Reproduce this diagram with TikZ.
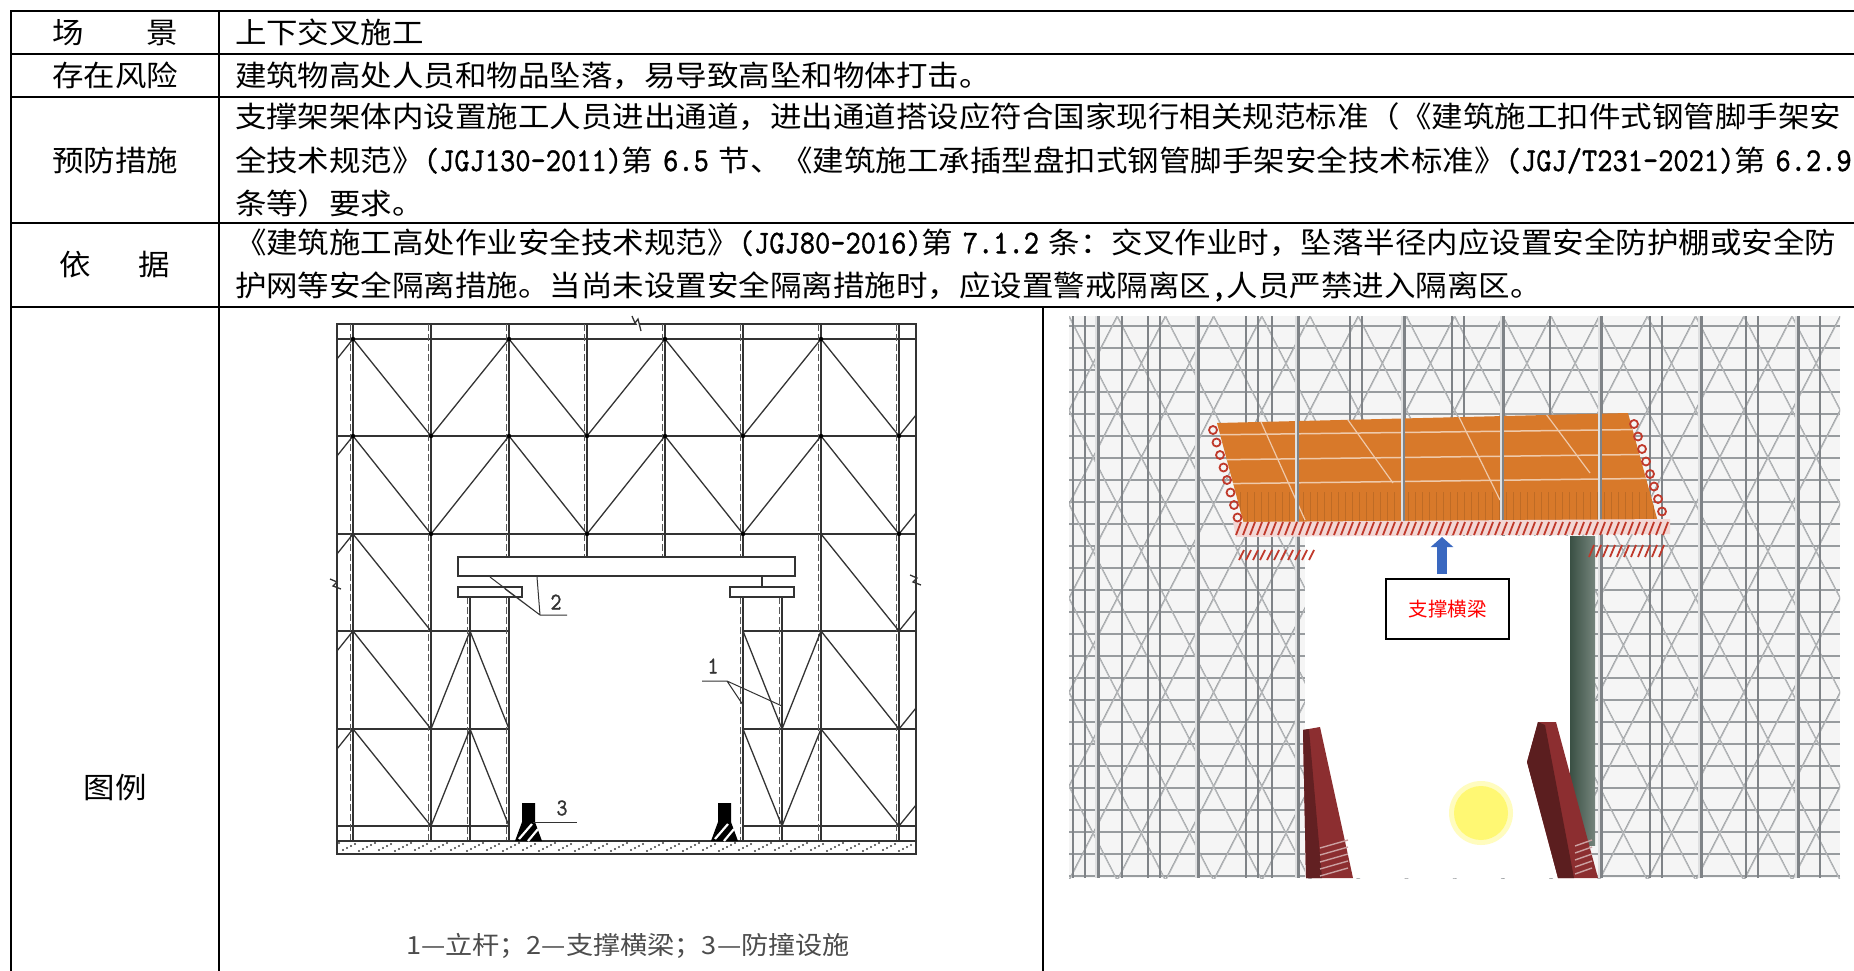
\documentclass[tikz,border=0pt]{standalone}
\usepackage{fontspec}
\setmainfont[FakeStretch=1.086]{Noto Sans CJK SC}
\newfontfamily\lat[Scale=1.15,FakeStretch=0.87,FakeBold=1]{lmmono10-regular.otf}
\newfontfamily\tagfont{Noto Sans CJK SC}
\newcommand\la[1]{{\lat #1}}
\usetikzlibrary{positioning,arrows.meta}
\definecolor{tube}{HTML}{7F8387}
\definecolor{deck}{HTML}{D8792A}
\definecolor{rail}{HTML}{C0392B}
\definecolor{guard}{HTML}{8C2E30}
\definecolor{post}{HTML}{3A5044}
\definecolor{shaftblue}{HTML}{3A68C0}
\begin{document}
\begin{tikzpicture}[x=1bp,y=-1bp,
    every node/.style={inner sep=0pt,rectangle,text centered,font=\fontsize{29bp}{43.3bp}\selectfont},
    field/.style={draw,line width=1.6bp,text width=208bp,align=center},
    wide/.style={field,text width=1620bp,inner xsep=16bp,align=left},
    bar/.style={line width=1.3bp,black!80},
    ghost/.style={line width=0.9bp,black!65,dash pattern=on 7bp off 3bp},
    tag/.style={font=\fontsize{21bp}{21bp}\lat,black!80},
    hatch/.style={rail,line width=1.8bp}]
\useasboundingbox (0,0) rectangle (1854,970);
\clip (0,0) rectangle (1854,970);
\matrix (tbl) [ampersand replacement=\&, column sep=-1.6bp, row sep=-1.6bp, anchor=north west] at (10,10)
{
\node [field, minimum height=43bp] (scene) {场　　景}; \&
\node [wide, minimum height=43bp] (scenetxt) {上下交叉施工}; \\
\node [field, minimum height=43bp] (risk) {存在风险}; \&
\node [wide, minimum height=43bp] (risktxt) {建筑物高处人员和物品坠落，易导致高坠和物体打击。}; \\
\node [field, minimum height=126bp] (measure) {预防措施}; \&
\node [wide, minimum height=126bp] (measuretxt) {支撑架架体内设置施工人员进出通道，进出通道搭设应符合国家现行相关规范标准（《建筑施工扣件式钢管脚手架安\\
全技术规范》\la{(JGJ130-2011)}第\la{\ 6.5\ }节、《建筑施工承插型盘扣式钢管脚手架安全技术标准》\la{(JGJ/T231-2021)}第\la{\ 6.2.9}\\
条等）要求。}; \\
\node [field, minimum height=84bp] (basis) {依\hspace{48bp}据}; \&
\node [wide, minimum height=84bp] (basistxt) {《建筑施工高处作业安全技术规范》\la{(JGJ80-2016)}第\la{\ 7.1.2\ }条：交叉作业时，坠落半径内应设置安全防护棚或安全防\\
护网等安全隔离措施。当尚未设置安全隔离措施时，应设置警戒隔离区\la{,}人员严禁进入隔离区。}; \\
\node [field, minimum height=960bp] (legend) {图例}; \&
\node [wide, minimum height=960bp] (pics) {}; \\
};
\coordinate (split) at (1043,306);
\draw[line width=1.6bp] (split) -- ++(0,680);

\draw[bar] (337,324) rectangle (916,854);
\foreach \y in {339,436,534} \draw[bar] (337,\y) -- (916,\y);
\foreach \y in {631,729,826} \draw[bar] (337,\y) -- (509,\y) (743,\y) -- (916,\y);
\foreach \x in {353,431,821,899} {\draw[bar] (\x,324) -- (\x,841); \draw[ghost] (\x-3,324) -- (\x-3,841);}
\foreach \x in {509,587,665,743} {\draw[bar] (\x,324) -- (\x,557); \draw[ghost] (\x-3,324) -- (\x-3,557);}
\foreach \x in {470,509,743,782} {\draw[bar] (\x,597) -- (\x,841); \draw[ghost] (\x-3,597) -- (\x-3,841);}
\foreach \t/\b in {339/436,436/534} \draw[bar] (353,\t) -- (431,\b) -- (509,\t) -- (587,\b) -- (665,\t) -- (743,\b) -- (821,\t) -- (899,\b);
\draw[bar] (353,534) -- (431,631) (821,534) -- (899,631);
\foreach \t/\b in {631/729,729/826} \draw[bar] (353,\t) -- (431,\b) -- (470,\t) -- (509,\b) (743,\t) -- (782,\b) -- (821,\t) -- (899,\b);
\foreach \t in {339,436,534,631,729} \draw[bar] (353,\t) -- (337,\t+20);
\foreach \b in {436,534,631,729,826} \draw[bar] (899,\b) -- (916,\b-21);
\foreach \y in {339,436} \foreach \x in {353,509,665,821} \fill (\x,\y) circle (2.2);
\foreach \y in {436,534} \foreach \x in {431,587,743,899} \fill (\x,\y) circle (2.2);
\draw[bar,fill=white] (458,557) rectangle (795,576);
\draw[bar,fill=white] (458,587) rectangle (522,597);
\draw[bar,fill=white] (730,587) rectangle (794,597);
\draw[bar] (762,576) -- (762,587);
\draw[bar,fill=white] (337,841) rectangle (916,854);
\foreach \i in {0,...,143} \fill[black!75] ({339+4*\i},{843+mod(7*\i,9)}) circle (1.1);
\foreach \x in {522,718} {
  \fill[black] (\x,803) rectangle (\x+13,822) (\x-7,841) -- (\x,822) -- (\x+13,822) -- (\x+20,841) -- cycle;
  \draw[white,line width=2.2bp] (\x-3,839) -- (\x+10,824) (\x+6,841) -- (\x+16,829);
}
\draw[bar,fill=white] (632,316) -- (635,323) -- (638,319) -- (641,331);
\draw[bar] (330,579) -- (337,582) -- (333,586) -- (341,589);
\draw[bar] (910,575) -- (917,578) -- (913,582) -- (921,585);

\node[tag] (n2) at (556,602) {2};
\node[tag] (n1) at (713,666) {1};
\node[tag] (n3) at (562,808) {3};
\coordinate (u2) at (540,615);
\coordinate (u1) at (727,681);
\coordinate (u3) at (533,822);
\coordinate (beamfoot) at (490,577);
\coordinate (padtop) at (505,589);
\coordinate (beamlow) at (537,577);
\coordinate (postl) at (743,705);
\coordinate (postr) at (782,706);
\draw[bar,line width=1bp] (u2) -- ++(27,0) (u2) -- (beamfoot) (u2) -- (padtop) (u2) -- (beamlow);
\draw[bar,line width=1bp] (u1) -- ++(-25,0) (u1) -- (postl) (u1) -- (postr);
\draw[bar,line width=1bp] (u3) -- ++(44,0);
\node[font=\fontsize{25bp}{25bp}\selectfont,text=black!70] (key) at (628,946) {1—立杆；2—支撑横梁；3—防撞设施};

\begin{scope}
\clip (1069,316) rectangle (1840,878);
\fill[gray!8] (1069,316) rectangle (1840,878);
\foreach \y in {326,348,...,878} \draw[tube!80,line width=1.3bp] (1069,\y) -- (1840,\y);
\foreach \i in {0,...,15} \foreach \j in {0,...,5}
  \draw[tube!80,line width=1.1bp] ({1069+48.2*\i},{316+94*\j}) -- ++(48.2,94) ++(-48.2,0) -- ++(48.2,-94);
\foreach \i in {0,...,16} \foreach \j in {0,...,6}
  \draw[tube!55,line width=0.9bp] ({1045+48.2*\i},{270+94*\j}) -- ++(48.2,94) ++(-48.2,0) -- ++(48.2,-94);
\foreach \x in {1073,1085,1122,1148,1160,1246,1258,1272,1350,1362,1452,1464,1550,1650,1662,1746,1758,1820} \draw[tube,line width=2bp] (\x,316) -- (\x,878);
\foreach \x in {1097,1197,1297,1403,1502,1600,1700,1797} {\draw[tube,line width=5bp] (\x,316) -- (\x,878); \draw[white!75!tube,line width=1.5bp] (\x-1,316) -- (\x-1,878);}
\fill[white] (1305,536) rectangle (1572,878);
\shade[left color=post, right color=post!70!white] (1570,536) rectangle (1595,845);
\fill[guard] (1303,730) -- (1320,727) -- (1353,878) -- (1306,878) -- cycle;
\fill[guard!70!black] (1303,730) -- (1309,729) -- (1322,878) -- (1306,878) -- cycle;
\fill[guard] (1538,722) -- (1556,722) -- (1598,878) -- (1558,878) -- (1527,762) -- cycle;
\fill[guard!65!black] (1538,722) -- (1545,725) -- (1574,878) -- (1558,878) -- (1527,762) -- cycle;
\foreach \k in {0,...,4} \draw[guard!45!white,line width=1.4bp] (1320,{848+7*\k}) -- (1348,{840+7*\k}) (1575,{846+7*\k}) -- (1592,{840+7*\k});
\fill[yellow!25!white] (1481,813) circle (32);
\fill[yellow!55!white] (1481,813) circle (27);
\begin{scope}
\clip (1217,423) -- (1628,413) -- (1658,522) -- (1245,528) -- cycle;
\fill[deck] (1200,400) rectangle (1680,540);
\foreach \x in {1240,1247,...,1660} \draw[deck!88!black,line width=0.6bp] (\x,492) -- (\x,528);
\foreach \y in {435,460,484} \draw[deck!40!white,line width=1.5bp] (1200,\y) -- (1680,\y-6);
\draw[deck!40!white,line width=1.2bp] (1257,413) -- (1305,520) (1343,413) -- (1393,483) (1457,413) -- (1500,500) (1543,410) -- (1590,473);
\end{scope}
\foreach \x in {1297,1403,1502,1600} {\draw[tube,line width=4bp] (\x,413) -- (\x,524); \draw[white!75!tube,line width=1.2bp] (\x-1,413) -- (\x-1,524);}
\fill[rail!20!white] (1233,522) -- (1670,519) -- (1670,534) -- (1236,537) -- cycle;
\foreach \x in {1236,1243,...,1668} \draw[hatch] (\x,535) -- (\x+5,522);
\foreach \x in {1239,1246,...,1315} \draw[hatch] (\x,560) -- (\x+5,550);
\foreach \x in {1589,1596,...,1665} \draw[hatch] (\x,557) -- (\x+5,545);
\foreach \k in {0,...,7} \draw[hatch] ({1213+3.5*\k},{430+12.5*\k}) circle (4);
\foreach \k in {0,...,7} \draw[hatch] ({1634+4*\k},{424+12.5*\k}) circle (4);
\end{scope}
\node[draw,line width=1.6bp,fill=white,minimum width=123bp,minimum height=60bp,text=red,font=\fontsize{19.5bp}{20bp}\tagfont] (beamtag) at (1447.5,609) {支撑横梁};
\coordinate (deckmid) at (1442,537);
\coordinate (arrowfoot) at (1442,574);
\draw[shaftblue,line width=10bp,-{Triangle[width=22bp,length=10bp]}] (arrowfoot) -- (deckmid);
\end{tikzpicture}
\end{document}
